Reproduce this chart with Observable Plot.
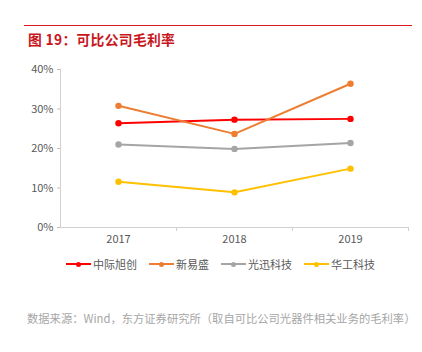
<!DOCTYPE html>
<html><head><meta charset="utf-8">
<script src="https://cdn.jsdelivr.net/npm/d3@7"></script>
<script src="https://cdn.jsdelivr.net/npm/@observablehq/plot@0.6"></script>
<style>
body{margin:0;width:422px;height:352px;background:#fff;position:relative;overflow:hidden;font-family:"Noto Sans CJK SC","Noto Sans",sans-serif;}
#rule{position:absolute;left:24px;top:25px;width:388px;height:0;border-top:1px solid #e0191e;}
#title{position:absolute;left:28px;top:29px;font-size:13.8px;font-weight:bold;color:#c8161d;letter-spacing:0.3px;}
#chart{position:absolute;left:0;top:55px;}
#legend{position:absolute;left:66px;top:256px;display:flex;font-size:11px;color:#595959;}
.item{display:flex;align-items:center;margin-right:12px;}
.sw{position:relative;width:25px;height:12px;margin-right:2px;}
.sw i{position:absolute;left:0;top:5px;width:25px;height:2px;}
.sw b{position:absolute;left:10px;top:3.5px;width:5px;height:5px;border-radius:50%;}
#caption{position:absolute;left:27px;top:310px;font-size:11.3px;color:#a6a6a6;}
</style></head>
<body>
<div id="rule"></div>
<div id="title">图 19：可比公司毛利率</div>
<div id="chart"></div>
<div id="legend"></div>
<div id="caption">数据来源：Wind，东方证券研究所（取自可比公司光器件相关业务的毛利率）</div>
<script>
const years = ["2017", "2018", "2019"];
const seriesNames = ["中际旭创", "新易盛", "光迅科技", "华工科技"];
const colors = ["#ff0000", "#ed7d31", "#a5a5a5", "#ffc000"];
const zhongji = [26.4, 27.3, 27.5];
const xinyisheng = [30.8, 23.7, 36.4];
const guangxun = [21.0, 19.9, 21.4];
const huagong = [11.6, 8.9, 14.9];
const yTicks = [0, 10, 20, 30, 40];

const seriesValues = [zhongji, xinyisheng, guangxun, huagong];
const data = [];
seriesNames.forEach((s, i) => years.forEach((y, j) => data.push({series: s, year: y, value: seriesValues[i][j]})));

const plot = Plot.plot({
  width: 422, height: 195,
  marginLeft: 60, marginRight: 14, marginTop: 14, marginBottom: 23,
  style: {fontSize: "11px", fontFamily: "'Noto Sans CJK SC','Noto Sans',sans-serif", color: "#595959", background: "transparent"},
  x: {type: "point", domain: years, padding: 0.5, label: null},
  y: {domain: [0, 40], label: null},
  color: {domain: seriesNames, range: colors},
  marks: [
    Plot.ruleY([0], {stroke: "#d0d0d0", strokeWidth: 1}),
    Plot.axisY({ticks: yTicks, tickFormat: d => d + "%", tickSize: 3, stroke: "#bfbfbf", tickPadding: 4, fill: "#595959", label: null}),
    Plot.axisX({tickSize: 0, tickPadding: 8, fill: "#595959", label: null}),
    Plot.line(data, {x: "year", y: "value", z: "series", stroke: "series", strokeWidth: 2}),
    Plot.dot(data, {x: "year", y: "value", fill: "series", r: 3.2})
  ]
});
document.getElementById("chart").appendChild(plot);

// axis decorations derived from scales
const xs = plot.scale("x"), ys = plot.scale("y");
const svg = d3.select(plot);
const step = xs.step;
svg.append("line").attr("x1", 60.5).attr("x2", 60.5)
  .attr("y1", ys.apply(0)).attr("y2", ys.apply(40)).attr("stroke", "#d0d0d0");
years.forEach(y => {
  const bx = Math.round(xs.apply(y) + step / 2) + 0.5;
  svg.append("line").attr("x1", bx).attr("x2", bx).attr("y1", ys.apply(0)).attr("y2", ys.apply(0) + 4).attr("stroke", "#d0d0d0");
});

const leg = document.getElementById("legend");
seriesNames.forEach((s, i) => {
  const it = document.createElement("div"); it.className = "item";
  it.innerHTML = `<span class="sw"><i style="background:${colors[i]}"></i><b style="background:${colors[i]}"></b></span><span>${s}</span>`;
  leg.appendChild(it);
});
</script>
</body></html>
